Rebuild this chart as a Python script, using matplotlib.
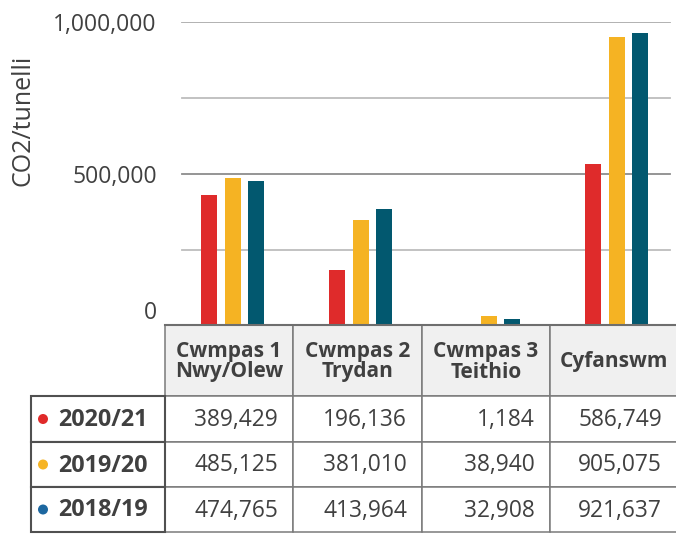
import matplotlib
matplotlib.use("Agg")
import matplotlib.pyplot as plt
import matplotlib.transforms as mtransforms
from matplotlib.patches import Rectangle, Circle

plt.rcParams['font.family'] = ['Open Sans', 'DejaVu Sans']

# Categories and series
categories = ["Cwmpas 1\nNwy/Olew", "Cwmpas 2\nTrydan", "Cwmpas 3\nTeithio", "Cyfanswm"]
years = ["2020/21", "2019/20", "2018/19"]

# Figures printed in the table
table_2020 = [389429, 196136, 1184, 586749]
table_2019 = [485125, 381010, 38940, 905075]
table_2018 = [474765, 413964, 32908, 921637]

# Bar heights as drawn in the chart (they differ a bit from the table)
bars_2020 = [431000, 184000, 1184, 533000]
bars_2019 = [486000, 349000, 33000, 951000]
bars_2018 = [477000, 385000, 23000, 964000]

bar_colors = ["#df2b2b", "#f5b323", "#02586f"]
dot_colors = ["#e02a2a", "#f6b424", "#1d67a0"]
text_col = "#404040"

W, H = 676, 535
fig = plt.figure(figsize=(W / 100, H / 100), dpi=100)

# chart area (pixel box: x 165..677, y 22..326)
ax = fig.add_axes([165 / W, (H - 326) / H, 512 / W, 304 / H])
ax.set_xlim(-0.5, 3.5)
ax.set_ylim(0, 1000000)
for s in ax.spines.values():
    s.set_visible(False)

grid_cols = {250000: "#bdbdbd", 500000: "#8c8c8c", 750000: "#bdbdbd", 1000000: "#ababab"}
for yv, c in grid_cols.items():
    ax.axhline(yv, xmin=0.033, xmax=0.986, color=c, lw=1.3, zorder=1)

series = [bars_2020, bars_2019, bars_2018]
width = 0.125
step = 0.184
for k, vals in enumerate(series):
    xs = [i + 0.03 + (k - 1) * step for i in range(len(categories))]
    ax.bar(xs, vals, width=width, color=bar_colors[k], zorder=2)

ax.set_xticks([])
ax.set_yticks([0, 500000, 1000000])
ax.set_yticklabels(["0", "500,000", "1,000,000"])
ax.tick_params(axis="y", length=0, pad=6, labelsize=16.5, labelcolor=text_col)
# the "0" label sits a little above the baseline
lab0 = ax.get_yticklabels()[0]
lab0.set_transform(lab0.get_transform() + mtransforms.ScaledTranslation(0, 16 / 100, fig.dpi_scale_trans))

fig.text(23 / W, 1 - 120 / H, "CO2/tunelli", rotation=90, ha="center", va="center",
         fontsize=18, color=text_col)

# table drawn in pixel coordinates
tab = fig.add_axes([0, 0, 1, 1], zorder=3)
tab.set_xlim(0, W)
tab.set_ylim(H, 0)
tab.axis("off")

col_x = [31, 165, 293, 422, 550, 677]
row_y = [325, 396, 442, 487, 532]

# header cells
for j in range(4):
    tab.add_patch(Rectangle((col_x[j + 1], row_y[0]), col_x[j + 2] - col_x[j + 1], row_y[1] - row_y[0],
                            facecolor="#f0f0f0", edgecolor="#7a7a7a", lw=1.1))
    tab.text((col_x[j + 1] + col_x[j + 2]) / 2, (row_y[0] + row_y[1]) / 2 + 1, categories[j],
             ha="center", va="center", fontsize=15, fontweight="bold", color=text_col,
             linespacing=1.0)

table_rows = [table_2020, table_2019, table_2018]
for i, yr in enumerate(years):
    y0, y1 = row_y[i + 1], row_y[i + 2]
    yc = (y0 + y1) / 2
    for j in range(4):
        tab.add_patch(Rectangle((col_x[j + 1], y0), col_x[j + 2] - col_x[j + 1], y1 - y0,
                                facecolor="white", edgecolor="#7a7a7a", lw=1.1))
        tab.text(col_x[j + 2] - 15, yc + 1, f"{table_rows[i][j]:,}", ha="right", va="center",
                 fontsize=16.4, color=text_col)
    tab.add_patch(Rectangle((col_x[0], y0), col_x[1] - col_x[0], y1 - y0,
                            facecolor="white", edgecolor="#505050", lw=1.5))
    tab.add_patch(Circle((43, yc), 5, facecolor=dot_colors[i], edgecolor="none"))
    tab.text(58, yc + 1, yr, ha="left", va="center", fontsize=16.8, fontweight="bold", color=text_col)

# baseline under the bars
tab.plot([col_x[1], W], [325, 325], color="#6e6e6e", lw=1.5)

fig.savefig("out.png", dpi=100)
